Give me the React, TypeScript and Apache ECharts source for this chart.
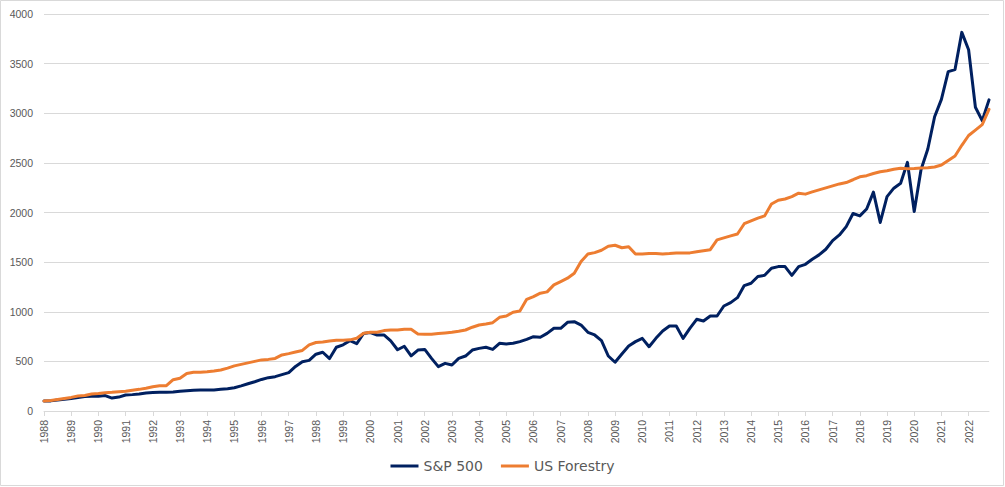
import { useEffect, useRef } from 'react';
import * as echarts from 'echarts';

const years = [
  '1988', '1989', '1990', '1991', '1992', '1993', '1994', '1995', '1996', '1997',
  '1998', '1999', '2000', '2001', '2002', '2003', '2004', '2005', '2006', '2007',
  '2008', '2009', '2010', '2011', '2012', '2013', '2014', '2015', '2016', '2017',
  '2018', '2019', '2020', '2021', '2022',
];
const quarterNames = ['Q1', 'Q2', 'Q3', 'Q4'];

// Quarterly index values (1988 Q1 = 100)
const sp500 = [
  100, 102, 110, 118,
  127, 137, 146, 148,
  148, 155, 130, 140,
  161, 165, 172, 182,
  186, 188, 188, 192,
  200, 205, 210, 212,
  212, 212, 218, 225,
  235, 253, 274, 295,
  318, 336, 346, 366,
  387, 449, 497, 510,
  572, 592, 528, 642,
  667, 709, 678, 782,
  790, 766, 766, 706,
  617, 652, 556, 614,
  620, 530, 447, 480,
  463, 530, 554, 614,
  631, 642, 621, 682,
  676, 682, 699, 722,
  749, 743, 782, 833,
  833, 894, 900, 866,
  793, 766, 709, 554,
  491, 575, 655, 699,
  732, 648, 732, 806,
  857, 857, 732, 833,
  924, 907, 957, 957,
  1058, 1092, 1142, 1264,
  1287, 1355, 1367, 1439,
  1455, 1455, 1367, 1455,
  1478, 1529, 1573, 1630,
  1717, 1774, 1858, 1990,
  1966, 2035, 2205, 1900,
  2160, 2245, 2295, 2505,
  2010, 2430, 2640, 2965,
  3140, 3420, 3440, 3815,
  3640, 3060, 2925, 3135,
];

const usForestry = [
  100, 106, 116, 127,
  137, 151, 156, 171,
  176, 183, 188, 195,
  200, 210, 218, 230,
  245, 255, 255, 315,
  330, 378, 390, 390,
  395, 403, 413, 432,
  455, 470, 485, 500,
  515, 520, 530, 565,
  578, 595, 610, 666,
  690, 695, 705, 712,
  713, 717, 733, 783,
  793, 793, 810, 815,
  815, 823, 823, 777,
  773, 773, 780, 786,
  793, 803, 816, 844,
  866, 877, 890, 944,
  957, 995, 1008, 1125,
  1153, 1187, 1200, 1271,
  1304, 1338, 1388, 1506,
  1581, 1596, 1620, 1660,
  1670, 1645, 1655, 1581,
  1581, 1586, 1586, 1581,
  1586, 1593, 1593, 1593,
  1605, 1615, 1625, 1724,
  1744, 1764, 1783, 1887,
  1916, 1944, 1966, 2085,
  2124, 2136, 2160, 2195,
  2185, 2208, 2228, 2248,
  2268, 2288, 2302, 2330,
  2360, 2371, 2393, 2411,
  2421, 2436, 2446, 2442,
  2444, 2448, 2450, 2458,
  2478, 2524, 2569, 2677,
  2776, 2830, 2885, 3040,
];

const seriesNames = ['S&P 500', 'US Forestry'];
const seriesColors = ['#002060', '#ED7D31'];

const categories = years.flatMap((y) => quarterNames.map((q) => `${y} ${q}`));

export default function App() {
  const ref = useRef<HTMLDivElement>(null);

  useEffect(() => {
    if (!ref.current) return;
    const chart = echarts.init(ref.current, undefined, { renderer: 'svg' });
    const axisFont = 'Liberation Sans, Arial, sans-serif';
    chart.setOption({
      animation: false,
      backgroundColor: '#ffffff',
      graphic: [
        {
          type: 'rect',
          silent: true,
          shape: { x: 0.5, y: 0.5, width: 1003, height: 485 },
          style: { fill: 'none', stroke: '#d9d9d9', lineWidth: 1 },
        },
      ],
      grid: { left: 44, right: 16, top: 14, bottom: 76, containLabel: false },
      legend: {
        data: seriesNames,
        left: 'center',
        top: 454,
        icon: 'rect',
        itemWidth: 28,
        itemHeight: 3,
        itemGap: 18,
        textStyle: { color: '#595959', fontSize: 14, fontFamily: 'DejaVu Sans, sans-serif' },
      },
      xAxis: {
        type: 'category',
        data: categories,
        boundaryGap: false,
        axisLine: { lineStyle: { color: '#d9d9d9', width: 1 } },
        axisTick: { show: true, interval: 3, length: 5, lineStyle: { color: '#d9d9d9' } },
        axisLabel: {
          interval: 3,
          rotate: 90,
          margin: 9,
          color: '#595959',
          fontSize: 10.5,
          fontFamily: axisFont,
          formatter: (v: string) => v.slice(0, 4),
        },
        splitLine: { show: false },
      },
      yAxis: {
        type: 'value',
        min: 0,
        max: 4000,
        interval: 500,
        axisLine: { show: false },
        axisTick: { show: false },
        axisLabel: {
          color: '#595959',
          fontSize: 10.5,
          fontFamily: axisFont,
          margin: 11,
          formatter: (v: number) => String(v),
        },
        splitLine: { lineStyle: { color: '#d9d9d9', width: 1 } },
      },
      series: [
        {
          name: seriesNames[0],
          type: 'line',
          data: sp500,
          showSymbol: false,
          symbol: 'none',
          lineStyle: { color: seriesColors[0], width: 3, join: 'round', cap: 'round' },
          itemStyle: { color: seriesColors[0] },
        },
        {
          name: seriesNames[1],
          type: 'line',
          data: usForestry,
          showSymbol: false,
          symbol: 'none',
          lineStyle: { color: seriesColors[1], width: 3, join: 'round', cap: 'round' },
          itemStyle: { color: seriesColors[1] },
        },
      ],
    });
    return () => chart.dispose();
  }, []);

  return (
    <div
      ref={ref}
      style={{ position: 'fixed', left: 0, top: 0, width: 1005, height: 487, background: '#fff' }}
    />
  );
}
